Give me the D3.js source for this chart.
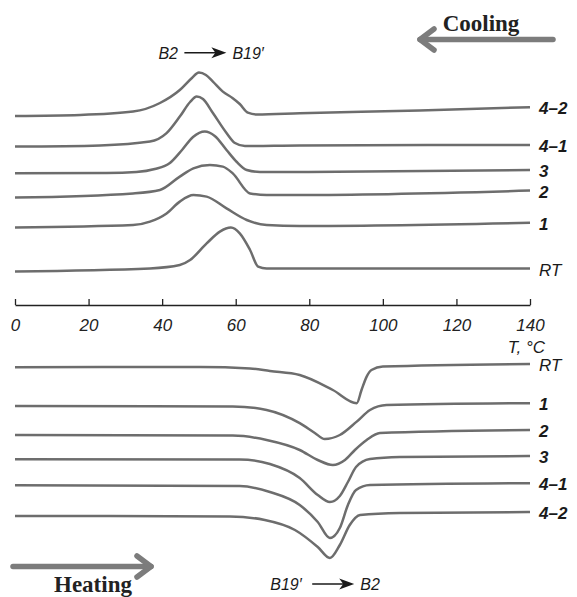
<!DOCTYPE html>
<html>
<head>
<meta charset="utf-8">
<script src="https://cdn.jsdelivr.net/npm/d3@7"></script>
<style>
  body { margin: 0; background: #fff; }
  svg { display: block; }
  .axis text { font-family: 'Liberation Sans', Arial, sans-serif; font-style: italic; font-size: 17px; fill: #222; }
  .axis path, .axis line { stroke: #222; stroke-width: 1.3; }
</style>
</head>
<body>
<div id="chart"></div>
<script>
// temperature ticks (deg C)
const tTicks = [0, 20, 40, 60, 80, 100, 120, 140]

// cooling curves: [T, heat flow (a.u., offset for clarity)]
const cool42 = [[0, 9.2], [17.7, 9.25], [32.1, 9.42], [39.4, 9.85], [44.8, 10.5], [48.1, 11.1], [50, 11.37], [51.9, 11.25], [53.8, 10.92], [56.5, 10.42], [59.2, 10.09], [61.1, 9.8], [63.3, 9.37], [65.8, 9.28], [77.4, 9.34], [110, 9.48], [140, 9.64]]
const cool41 = [[0, 7.67], [23.1, 7.73], [36.7, 7.92], [41.2, 8.34], [44.8, 9.17], [47.6, 9.9], [49.4, 10.17], [51.1, 10.05], [53.8, 9.35], [57.5, 8.35], [59.8, 7.85], [62.5, 7.7], [77.4, 7.73], [140, 7.75]]
const cool3 = [[0, 6.34], [25, 6.35], [33, 6.4], [38, 6.55], [42.1, 6.85], [45.4, 7.5], [48.4, 8.15], [51.6, 8.42], [54.3, 8.2], [57.5, 7.5], [60.3, 6.9], [63, 6.5], [66.6, 6.4], [77.4, 6.4], [140, 6.5]]
const cool2 = [[0, 5.12], [32.1, 5.33], [39.4, 5.5], [44.8, 6.17], [48.5, 6.58], [53, 6.75], [56.5, 6.67], [59.2, 6.33], [63.9, 5.33], [68.4, 5.25], [77.4, 5.25], [140, 5.47]]
const cool1 = [[0, 3.63], [32.1, 3.75], [36.7, 3.92], [41.2, 4.33], [44.8, 4.92], [48.5, 5.25], [52.1, 5.17], [57.5, 4.58], [63, 4.0], [68.4, 3.75], [77.4, 3.7], [140, 3.86]]
const coolRT = [[0, 1.43], [36.7, 1.58], [44.8, 1.75], [47.6, 2.0], [52.1, 2.83], [55.7, 3.42], [58.7, 3.62], [61.1, 3.33], [63.9, 2.5], [66.1, 1.67], [68.4, 1.58], [140, 1.58]]

// heating curves
const heatRT = [[0, 11.64], [50.3, 11.65], [63.9, 11.58], [69.3, 11.45], [77.4, 11.25], [86.4, 10.5], [92.9, 9.84], [94.2, 10.5], [95.6, 11.17], [96.9, 11.5], [100, 11.67], [140, 11.8]]
const heat1 = [[0, 9.7], [59.2, 9.68], [68.4, 9.5], [77.4, 8.84], [81.5, 8.35], [84.2, 8.05], [88.3, 8.25], [92.9, 8.92], [96.5, 9.5], [101, 9.75], [140, 9.84]]
const heat2 = [[0, 8.25], [59.2, 8.22], [68.4, 8.0], [77.4, 7.5], [82.3, 7.0], [86.4, 6.75], [89.7, 7.0], [92.4, 7.5], [95.6, 8.0], [99.2, 8.35], [140, 8.5]]
const heat3 = [[0, 7.04], [61.1, 7.03], [69.3, 6.8], [77.4, 6.1], [82.3, 5.25], [85.6, 4.9], [88.3, 5.2], [90.5, 5.9], [92.7, 6.65], [96.5, 7.05], [104.6, 7.15], [140, 7.2]]
const heat41 = [[0, 5.74], [61.1, 5.7], [69.3, 5.4], [77.4, 4.75], [82.3, 3.9], [85.6, 3.1], [88.3, 3.6], [90.5, 4.75], [92.7, 5.5], [96.5, 5.75], [140, 5.84]]
const heat42 = [[0, 4.2], [58.4, 4.18], [67.9, 4.0], [76.1, 3.5], [82.3, 2.65], [85.6, 2.1], [88.3, 2.75], [91, 3.75], [93.8, 4.25], [104.6, 4.35], [140, 4.4]]

const coolNames = ['4–2', '4–1', '3', '2', '1', 'RT']
const coolSeries = [cool42, cool41, cool3, cool2, cool1, coolRT]
const heatNames = ['RT', '1', '2', '3', '4–1', '4–2']
const heatSeries = [heatRT, heat1, heat2, heat3, heat41, heat42]

const width = 577
const height = 597
const lineColor = '#6d6d6d'
const arrowColor = '#7c7c7c'

const svg = d3.select('#chart')
  .append('svg')
  .attr('width', width)
  .attr('height', height)

const xPositionScale = d3.scaleLinear().domain([0, 140]).range([15, 530])
const yTop = d3.scaleLinear().domain([0, 13]).range([300, 40])
const yBot = d3.scaleLinear().domain([0, 13]).range([600, 340])

function drawPanel(series, names, yScale) {
  const line = d3.line()
    .x(d => xPositionScale(d[0]))
    .y(d => yScale(d[1]))
    .curve(d3.curveMonotoneX)

  svg.append('g')
    .selectAll('path')
    .data(series)
    .enter()
    .append('path')
    .attr('fill', 'none')
    .attr('stroke', lineColor)
    .attr('stroke-width', 2.5)
    .attr('stroke-linejoin', 'round')
    .attr('d', d => line(d))

  svg.append('g')
    .selectAll('text')
    .data(series)
    .enter()
    .append('text')
    .attr('x', d => xPositionScale(d[d.length - 1][0]) + 9)
    .attr('y', d => yScale(d[d.length - 1][1]) + 1)
    .attr('dy', '0.36em')
    .attr('font-family', "'Liberation Sans', Arial, sans-serif")
    .attr('font-style', 'italic')
    .attr('font-size', 17)
    .attr('font-weight', (d, i) => names[i] === 'RT' ? 'normal' : 'bold')
    .attr('fill', '#1a1a1a')
    .text((d, i) => names[i])
}

drawPanel(coolSeries, coolNames, yTop)
drawPanel(heatSeries, heatNames, yBot)

// temperature axis between the panels
const xAxis = d3.axisBottom(xPositionScale)
  .tickValues(tTicks)
  .tickSizeInner(-6)
  .tickSizeOuter(0)
  .tickPadding(14)

svg.append('g')
  .attr('class', 'axis x-axis')
  .attr('transform', 'translate(0,305)')
  .call(xAxis)

svg.append('text')
  .attr('x', xPositionScale(140) + 15)
  .attr('y', 347)
  .attr('dy', '0.36em')
  .attr('text-anchor', 'end')
  .attr('font-family', "'Liberation Sans', Arial, sans-serif")
  .attr('font-style', 'italic')
  .attr('font-size', 17)
  .attr('fill', '#1a1a1a')
  .text('T, °C')

// transformation labels with small arrows
function transLabel(cx, cy, left, right, leftW, arrowW, rightW) {
  const g = svg.append('g')
    .attr('font-family', "'Liberation Sans', Arial, sans-serif")
    .attr('font-style', 'italic')
    .attr('font-size', 16)
    .attr('fill', '#1a1a1a')
  const total = leftW + arrowW + rightW + 14
  const x0 = cx - total / 2
  g.append('text').attr('x', x0).attr('y', cy).attr('dy', '0.36em').text(left)
  const a0 = x0 + leftW + 6
  const a1 = a0 + arrowW
  g.append('line')
    .attr('x1', a0).attr('x2', a1 - 8)
    .attr('y1', cy).attr('y2', cy)
    .attr('stroke', '#1a1a1a').attr('stroke-width', 1.4)
  g.append('path')
    .attr('d', `M${a1},${cy} L${a1 - 15},${cy - 5.5} L${a1 - 11},${cy} L${a1 - 15},${cy + 5.5} Z`)
    .attr('fill', '#1a1a1a')
  g.append('text').attr('x', a1 + 6).attr('y', cy).attr('dy', '0.36em').text(right)
}

transLabel(xPositionScale(54.2), yTop(12.36), 'B2', 'B19′', 20, 42, 36)
transLabel(xPositionScale(84.6), yBot(0.8), 'B19′', 'B2', 36, 42, 20)

// cooling / heating arrows
function bigArrow(x1, x2, y, dir) {
  const tip = dir > 0 ? x2 : x1
  svg.append('line')
    .attr('x1', x1).attr('x2', x2)
    .attr('y1', y).attr('y2', y)
    .attr('stroke', arrowColor).attr('stroke-width', 5.5)
    .attr('stroke-linecap', 'round')
  svg.append('path')
    .attr('d', `M${tip - dir * 14},${y - 10.5} L${tip},${y} L${tip - dir * 14},${y + 10.5}`)
    .attr('fill', 'none')
    .attr('stroke', arrowColor).attr('stroke-width', 5.5)
    .attr('stroke-linecap', 'round').attr('stroke-linejoin', 'round')
}

bigArrow(420, 553, 39.5, -1)
bigArrow(13, 151, 566.5, 1)

svg.append('text')
  .attr('x', 481).attr('y', 31)
  .attr('text-anchor', 'middle')
  .attr('font-family', "'Liberation Serif', 'Times New Roman', serif")
  .attr('font-weight', 'bold')
  .attr('font-size', 23)
  .attr('fill', '#222')
  .text('Cooling')

svg.append('text')
  .attr('x', 93).attr('y', 592)
  .attr('text-anchor', 'middle')
  .attr('font-family', "'Liberation Serif', 'Times New Roman', serif")
  .attr('font-weight', 'bold')
  .attr('font-size', 23)
  .attr('fill', '#222')
  .text('Heating')
</script>
</body>
</html>
